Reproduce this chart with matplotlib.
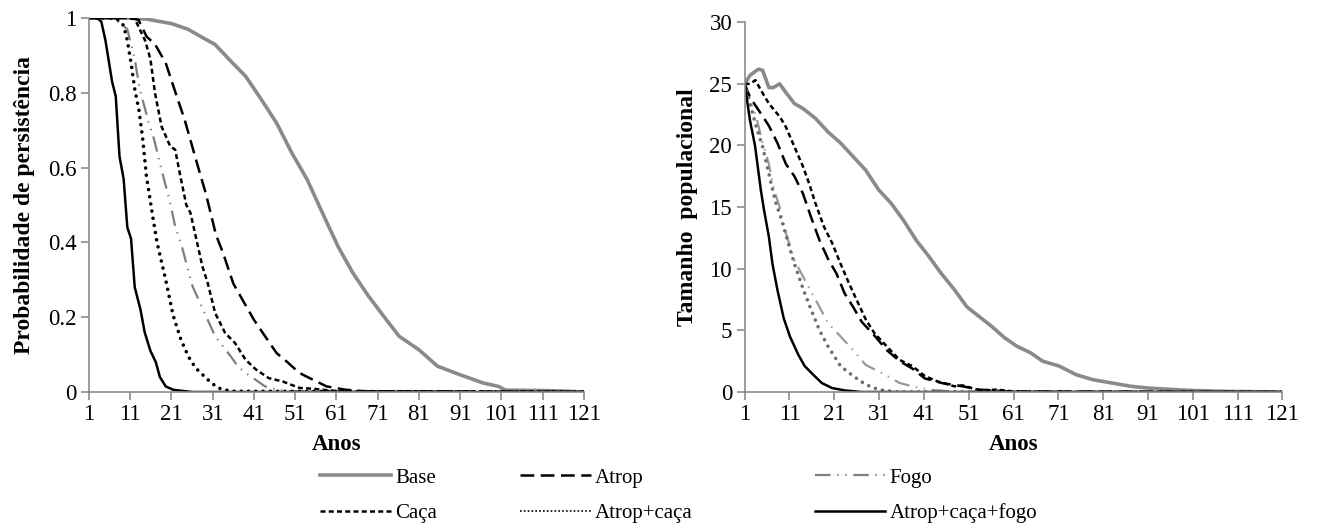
import matplotlib
matplotlib.use("Agg")
import matplotlib.pyplot as plt
from matplotlib.lines import Line2D

plt.rcParams['font.family'] = ['Liberation Serif', 'DejaVu Serif']

# anos (eixo x)
anos_ticks = list(range(1, 122, 10))

# --- Probabilidade de persistencia (painel esquerdo) ---
base_p_x = [1, 10, 15, 21, 25, 28, 31.6, 35, 39, 42.8, 46.5, 50.2, 53.9, 57.6, 61.4, 65, 68.8, 72.5, 76.2, 81, 85.5, 91, 96.6, 100.3, 102, 110, 115, 121]
base_p = [1, 1, 0.997, 0.985, 0.97, 0.951, 0.929, 0.889, 0.844, 0.782, 0.719, 0.639, 0.568, 0.479, 0.389, 0.318, 0.256, 0.202, 0.149, 0.113, 0.069, 0.046, 0.024, 0.015, 0.005, 0.004, 0.003, 0]

atrop_p_x = [1, 11, 13, 15, 17, 19.6, 22, 24.2, 27.5, 29.3, 31.8, 33.5, 36, 38.2, 41, 43.7, 46.5, 49.3, 52, 54.9, 58.6, 63.2, 68, 121]
atrop_p = [1, 1, 0.995, 0.95, 0.93, 0.88, 0.80, 0.728, 0.60, 0.532, 0.42, 0.372, 0.29, 0.247, 0.193, 0.149, 0.104, 0.078, 0.051, 0.035, 0.015, 0.006, 0.002, 0]

fogo_p_x = [1, 7, 10.3, 12.1, 13.3, 15.5, 16.8, 18.6, 20.5, 21.9, 23.5, 26.1, 29.5, 31.6, 35.4, 37, 39, 43.7, 46.5, 50, 121]
fogo_p = [1, 1, 0.97, 0.89, 0.81, 0.72, 0.675, 0.594, 0.514, 0.443, 0.39, 0.283, 0.2, 0.149, 0.095, 0.07, 0.051, 0.015, 0.006, 0.002, 0]

caca_p_x = [1, 10, 12.1, 14.6, 15.9, 17, 18.6, 20.7, 21.9, 23, 24.6, 25.6, 26.8, 28.5, 29.8, 31.6, 34, 36.4, 39, 41.5, 44.6, 48, 52, 56, 61.4, 121]
caca_p = [1, 1, 0.998, 0.94, 0.89, 0.80, 0.71, 0.657, 0.648, 0.586, 0.50, 0.479, 0.42, 0.336, 0.291, 0.211, 0.158, 0.131, 0.086, 0.06, 0.037, 0.028, 0.011, 0.008, 0.002, 0]

atrop_caca_p_x = [1, 6, 8, 9.4, 10.3, 11.2, 12.1, 13.1, 14, 14.9, 16.3, 17.5, 19.6, 21.4, 23.3, 25.1, 26.8, 29.8, 32.2, 35.4, 121]
atrop_caca_p = [1, 1, 0.995, 0.98, 0.94, 0.88, 0.81, 0.755, 0.68, 0.58, 0.48, 0.40, 0.30, 0.205, 0.14, 0.095, 0.065, 0.033, 0.011, 0.002, 0]

acf_p_x = [1, 3, 4, 5, 6.6, 7.5, 8.4, 9.4, 10.3, 11.2, 12.1, 13.5, 14.5, 15.9, 17.2, 18.2, 19.6, 21.4, 26, 121]
acf_p = [1, 1, 0.99, 0.94, 0.83, 0.79, 0.63, 0.57, 0.44, 0.41, 0.28, 0.22, 0.16, 0.11, 0.08, 0.04, 0.015, 0.006, 0, 0]

# --- Tamanho populacional (painel direito) ---
base_n_x = [1, 2.2, 4.1, 5, 6.4, 7.4, 8.8, 10.2, 12.1, 14, 16.8, 19.6, 22.4, 25.2, 28, 30.9, 33.7, 36.5, 39.3, 42.1, 44.9, 47.8, 50.6, 53.4, 56.2, 59, 61.8, 64.7, 67.5, 71.2, 75, 78.7, 83.4, 87.2, 91, 94.7, 100.3, 107.8, 121]
base_n = [25, 25.7, 26.2, 26.1, 24.7, 24.7, 25, 24.3, 23.4, 23, 22.2, 21.1, 20.2, 19.1, 18, 16.4, 15.3, 13.9, 12.3, 11, 9.6, 8.3, 6.9, 6.1, 5.3, 4.4, 3.7, 3.2, 2.5, 2.1, 1.4, 1.0, 0.7, 0.46, 0.32, 0.24, 0.13, 0.05, 0]

atrop_n_x = [1, 2.2, 4.6, 6.4, 8.3, 10.2, 12.1, 14, 15.8, 17.7, 19.6, 21.5, 23.3, 25.2, 27.1, 29.9, 32.7, 35.6, 38.4, 41.2, 45, 49.6, 53.4, 60, 121]
atrop_n = [25, 23.9, 22.6, 21.6, 20.2, 18.5, 17.5, 16.1, 14.2, 12.3, 10.8, 9.6, 8.0, 6.9, 5.7, 4.6, 3.4, 2.5, 1.9, 1.1, 0.73, 0.46, 0.19, 0.05, 0]

fogo_n_x = [1, 2.2, 3.6, 5, 6.4, 7.4, 8.8, 10.2, 12.1, 14.4, 16.8, 19.6, 22.4, 25.2, 28, 31.8, 35.6, 38.4, 42.1, 47, 121]
fogo_n = [25, 23.7, 22.3, 20.2, 18.5, 16.6, 15, 12.9, 10.7, 9.1, 7.5, 5.6, 4.5, 3.4, 2.2, 1.5, 0.73, 0.46, 0.19, 0.05, 0]

caca_n_x = [1, 2.2, 3.4, 4.6, 6.4, 8.9, 10.2, 12.1, 14, 15.4, 16.8, 18.7, 20.5, 22.4, 24.3, 26.2, 28, 29.9, 32.7, 35.6, 38.4, 41.2, 44, 47.8, 49.6, 53.4, 57.2, 60.9, 70, 121]
caca_n = [25, 25, 25.3, 24.5, 23.4, 22.3, 21.5, 19.9, 18.3, 16.9, 15.3, 13.4, 12.1, 10.4, 8.8, 7.3, 5.9, 4.8, 3.7, 2.6, 2.1, 1.3, 0.86, 0.46, 0.54, 0.13, 0.19, 0.05, 0, 0]

atrop_caca_n_x = [1, 2.2, 3.6, 5, 6.4, 7.9, 9.3, 10.7, 12.1, 14, 15.8, 17.7, 19.6, 22.4, 25.2, 28, 30.9, 35, 121]
atrop_caca_n = [25, 23.4, 21.5, 19.9, 17.7, 15.4, 13.9, 12.1, 10.4, 8.4, 6.7, 5.0, 3.7, 2.1, 1.3, 0.6, 0.19, 0, 0]

acf_n_x = [1, 2.2, 3.3, 4.6, 5.3, 6.4, 7.2, 8.3, 9.7, 11.1, 13, 14.4, 16.3, 18.2, 20.5, 23.3, 27, 121]
acf_n = [25, 22, 20, 16.4, 14.8, 12.6, 10.4, 8.3, 6.0, 4.5, 3.0, 2.1, 1.4, 0.73, 0.32, 0.13, 0, 0]

gray_base = '#8a8a8a'
gray_fogo = '#7f7f7f'
gray_spine = '#8c8c8c'

sty_base = dict(color=gray_base, lw=2.6, linestyle='-')
sty_atrop = dict(color='black', lw=1.8, linestyle=(0, (5.5, 2.6)))
sty_fogo = dict(color=gray_fogo, lw=1.6, linestyle=(0, (7, 3, 0.6, 3, 0.6, 3)))
sty_caca = dict(color='black', lw=1.8, linestyle=(0, (2.0, 1.3)))
sty_ac = dict(color='black', lw=2.6, linestyle=(0, (0.01, 2.0)), dash_capstyle='round')
sty_acf = dict(color='black', lw=1.8, linestyle='-')

fs = 16.5

fig = plt.figure(figsize=(13.18, 5.29), dpi=100)
ax1 = fig.add_axes([0.0675, 0.259, 0.3755, 0.707])
ax2 = fig.add_axes([0.565, 0.259, 0.408, 0.699])


def style_axis(ax):
    for s in ['top', 'right']:
        ax.spines[s].set_visible(False)
    for s in ['left', 'bottom']:
        ax.spines[s].set_color(gray_spine)
        ax.spines[s].set_linewidth(1.2)
    ax.tick_params(axis='both', direction='out', color=gray_spine, length=6, width=1.2,
                   labelsize=fs, pad=3)
    ax.set_xlim(1, 121)
    ax.set_xticks(anos_ticks)
    ax.set_xlabel('Anos', fontsize=fs, fontweight='bold', labelpad=6)


# painel esquerdo
ax1.plot(base_p_x, base_p, **sty_base)
ax1.plot(fogo_p_x, fogo_p, **sty_fogo)
ax1.plot(atrop_p_x, atrop_p, **sty_atrop)
ax1.plot(caca_p_x, caca_p, **sty_caca)
ax1.plot(atrop_caca_p_x, atrop_caca_p, **sty_ac)
ax1.plot(acf_p_x, acf_p, **sty_acf)
style_axis(ax1)
ax1.set_ylim(0, 1)
ax1.set_yticks([0, 0.2, 0.4, 0.6, 0.8, 1])
ax1.set_yticklabels(['0', '0.2', '0.4', '0.6', '0.8', '1'])
ax1.set_ylabel('Probabilidade de persistência', fontsize=17, fontweight='bold', labelpad=9)

# painel direito (pontilhado em cinza)
sty_ac_r = dict(sty_ac, color='#6e6e6e')
ax2.plot(base_n_x, base_n, **sty_base)
ax2.plot(fogo_n_x, fogo_n, **dict(sty_fogo, color='#999999'))
ax2.plot(atrop_n_x, atrop_n, **sty_atrop)
ax2.plot(caca_n_x, caca_n, **sty_caca)
ax2.plot(atrop_caca_n_x, atrop_caca_n, **sty_ac_r)
ax2.plot(acf_n_x, acf_n, **sty_acf)
style_axis(ax2)
ax2.set_ylim(0, 30)
ax2.set_yticks(range(0, 31, 5))
ax2.set_ylabel('Tamanho  populacional', fontsize=17, fontweight='bold', labelpad=8)

# legenda em 3 colunas
sty_ac_leg = dict(color='black', lw=1.2, linestyle=(0, (1, 1.3)))
cols = [
    ([('Base', sty_base), ('Caça', sty_caca)], 0.243),
    ([('Atrop', sty_atrop), ('Atrop+caça', sty_ac_leg)], 0.3945),
    ([('Fogo', sty_fogo), ('Atrop+caça+fogo', sty_acf)], 0.618),
]
for entries, x0 in cols:
    handles = [Line2D([], [], **st) for _, st in entries]
    labels = [lb for lb, _ in entries]
    fig.legend(handles, labels, loc='upper left', bbox_to_anchor=(x0, 0.115),
               frameon=False, fontsize=15, handlelength=3.4, handletextpad=0.2,
               labelspacing=0.75, borderpad=0, borderaxespad=0)

fig.savefig('out.png', dpi=100)
